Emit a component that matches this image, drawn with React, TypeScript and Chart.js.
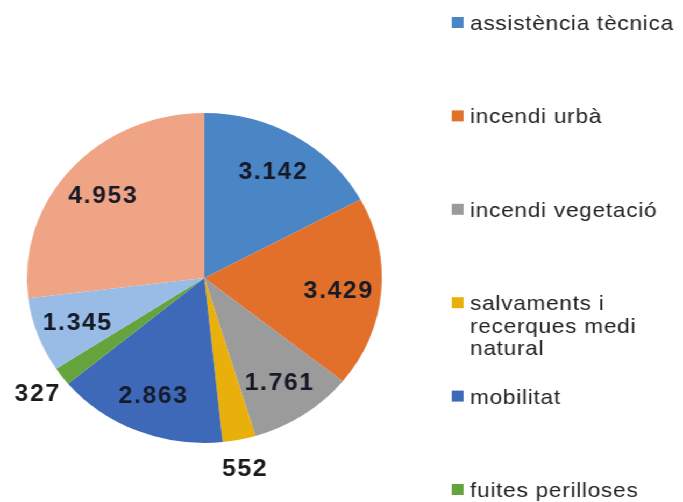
import React, { useEffect, useRef } from "react";
import { Chart, registerables } from "chart.js";

Chart.register(...registerables);

const categories = [
  "assistència tècnica",
  "incendi urbà",
  "incendi vegetació",
  "salvaments i\nrecerques medi\nnatural",
  "mobilitat",
  "fuites perilloses",
  "altres serveis",
  "altres",
];
const values = [3142, 3429, 1761, 552, 2863, 327, 1345, 4953];
const colors = [
  "#4a86c5",
  "#e2702a",
  "#9b9b9b",
  "#e9b00c",
  "#3e69b8",
  "#65a33f",
  "#98bce6",
  "#f0a486",
];

const fmt = (v: number) => String(v).replace(/\B(?=(\d{3})+(?!\d))/g, ".");

const STRETCH = 683 / 635;

const overlayPlugin = {
  id: "overlay",
  afterDatasetsDraw(chart: any) {
    const ctx = chart.ctx as CanvasRenderingContext2D;
    const meta = chart.getDatasetMeta(0);
    const total = values.reduce((a, b) => a + b, 0);
    ctx.save();
    // data labels
    ctx.font = 'bold 23px "Liberation Sans", Arial, sans-serif';
    (ctx as any).letterSpacing = "1.5px";
    ctx.textAlign = "center";
    ctx.textBaseline = "middle";
    meta.data.forEach((arc: any, i: number) => {
      const p = arc.getProps(["x", "y", "startAngle", "endAngle", "outerRadius"], true);
      const mid = (p.startAngle + p.endAngle) / 2;
      const small = values[i] / total < 0.04;
      const f = small ? 1.17 : 0.76;
      const x = p.x + Math.cos(mid) * p.outerRadius * f;
      const y = p.y + Math.sin(mid) * p.outerRadius * f;
      ctx.fillStyle = small ? "#1a1a1a" : "#161a28";
      ctx.fillText(fmt(values[i]), x, y + 2);
    });

    // legend
    ctx.font = '21px "Liberation Sans", Arial, sans-serif';
    (ctx as any).letterSpacing = "0.7px";
    ctx.textAlign = "left";
    ctx.textBaseline = "alphabetic";
    const x0 = 420;
    const tx = 437;
    const base0 = 30;
    const step = 93.4;
    const lineH = 22.5;
    categories.forEach((label, i) => {
      const baseline = base0 + i * step;
      ctx.fillStyle = colors[i];
      ctx.fillRect(x0, baseline - 13, 11, 11);
      ctx.fillStyle = "#222222";
      label.split("\n").forEach((line, j) => {
        ctx.fillText(line, tx, baseline + j * lineH);
      });
    });
    ctx.restore();
  },
};

export default function App() {
  const ref = useRef<HTMLCanvasElement | null>(null);
  useEffect(() => {
    if (!ref.current) return;
    const chart = new Chart(ref.current, {
      type: "pie",
      data: {
        labels: categories.map((c) => c.replace(/\n/g, " ")),
        datasets: [
          {
            data: values,
            backgroundColor: colors,
            borderWidth: 0,
          },
        ],
      },
      options: {
        responsive: false,
        maintainAspectRatio: false,
        animation: false,
        layout: { padding: { left: 25, right: 280, top: 113, bottom: 59 } },
        plugins: {
          legend: { display: false },
          tooltip: { enabled: false },
        },
      },
      plugins: [overlayPlugin],
    });
    return () => chart.destroy();
  }, []);

  return (
    <div
      style={{
        position: "fixed",
        left: 0,
        top: 0,
        width: 635,
        height: 502,
        background: "#ffffff",
        transform: `scaleX(${STRETCH})`,
        transformOrigin: "0 0",
      }}
    >
      <canvas ref={ref} width={635} height={502} />
    </div>
  );
}
